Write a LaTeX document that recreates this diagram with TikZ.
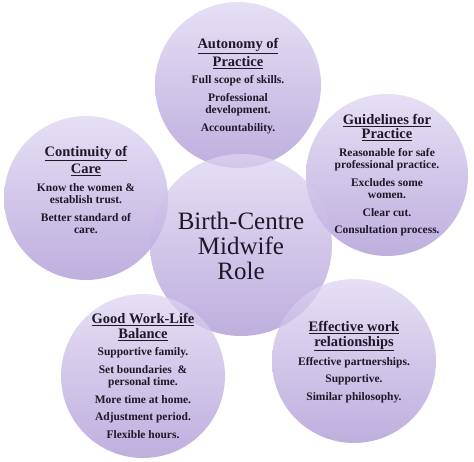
\documentclass[tikz,border=0pt]{standalone}
\usepackage{fontspec}
\setmainfont{Liberation Serif}
\definecolor{ctop}{RGB}{222,212,242}
\definecolor{cbot}{RGB}{168,148,210}
\definecolor{textcol}{RGB}{30,24,40}
\tikzset{
  bubble/.style={circle, minimum size=#1, inner sep=0pt, top color=ctop, bottom color=cbot, fill opacity=0.75, draw=none},
  txt/.style={align=center, text=textcol, inner sep=0pt, font=\fontsize{11.5}{12.5}\selectfont\bfseries},
}
\newcommand{\hdg}[1]{{\fontsize{14.5}{15}\selectfont\underline{#1}}}
\begin{document}
\begin{tikzpicture}[x=1pt,y=-1pt]
\useasboundingbox (0,0) rectangle (474,462);
\node[bubble=166] (ctop) at (238,85) {};
\node[bubble=164] (cleft) at (86,198) {};
\node[bubble=162] (cright) at (387,175) {};
\node[bubble=182] (ccenter) at (241,245) {};
\node[bubble=164] (cbl) at (143,376) {};
\node[bubble=164] (cbr) at (354,361) {};

\node[txt] (ttop) at (238,86) {\hdg{Autonomy of}\\[2pt]\hdg{Practice}\\[5pt]
Full scope of skills.\\[5pt]
Professional\\development.\\[5pt]
Accountability.};
\node[txt] (tleft) at (86,190) {\hdg{Continuity of}\\[2pt]\hdg{Care}\\[5pt]
Know the women \&\\establish trust.\\[5pt]
Better standard of\\care.};
\node[txt] (tright) at (387,175) {\hdg{Guidelines for}\\[2pt]\hdg{Practice}\\[5pt]
Reasonable for safe\\professional practice.\\[5pt]
Excludes some\\women.\\[5pt]
Clear cut.\\[5pt]
Consultation process.};
\node[txt] (tbl) at (143,376) {\hdg{Good Work-Life}\\[2pt]\hdg{Balance}\\[5pt]
Supportive family.\\[5pt]
Set boundaries \ \&\\personal time.\\[5pt]
More time at home.\\[5pt]
Adjustment period.\\[5pt]
Flexible hours.};
\node[txt] (tbr) at (354,362) {\hdg{Effective work}\\[2pt]\hdg{relationships}\\[5pt]
Effective partnerships.\\[5pt]
Supportive.\\[5pt]
Similar philosophy.};
\node[align=center, text=textcol, inner sep=0pt, font=\fontsize{25}{25}\selectfont] (tcenter) at (241,246) {Birth-Centre\\Midwife\\Role};
\end{tikzpicture}
\end{document}
